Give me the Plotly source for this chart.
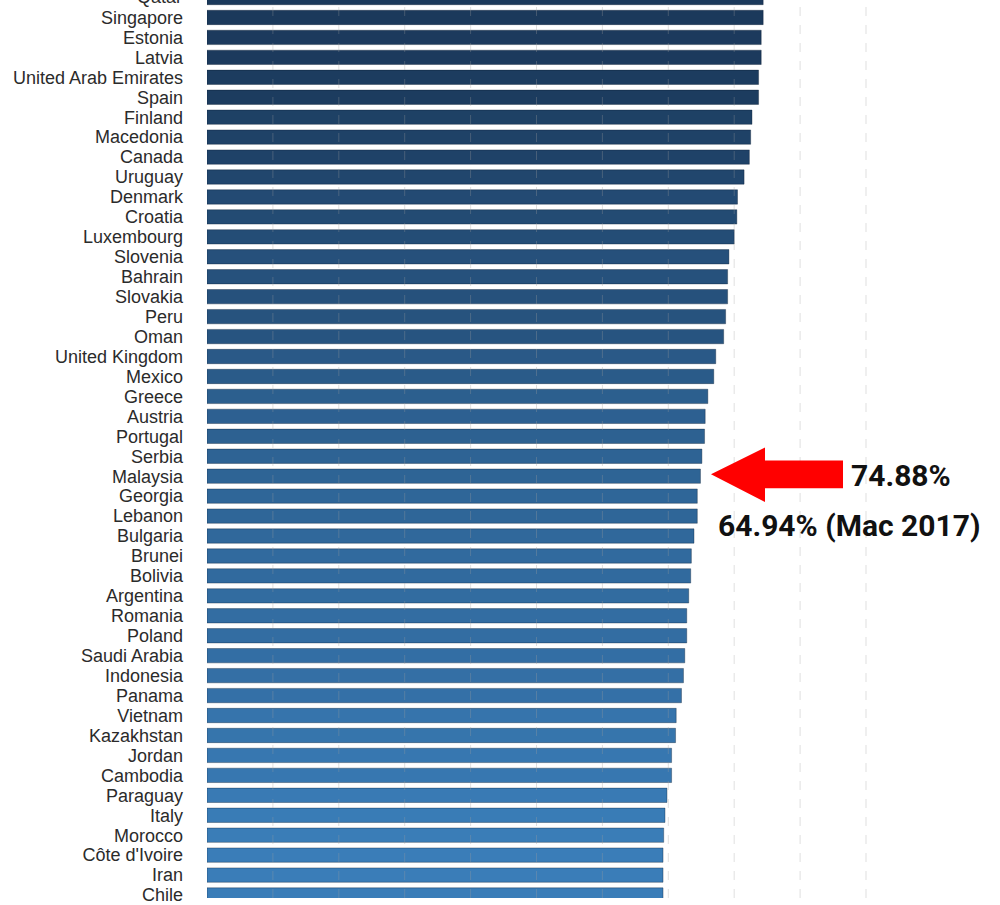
import plotly.graph_objects as go

countries = [
    "Qatar", "Singapore", "Estonia", "Latvia", "United Arab Emirates", "Spain",
    "Finland", "Macedonia", "Canada", "Uruguay", "Denmark", "Croatia",
    "Luxembourg", "Slovenia", "Bahrain", "Slovakia", "Peru", "Oman",
    "United Kingdom", "Mexico", "Greece", "Austria", "Portugal", "Serbia",
    "Malaysia", "Georgia", "Lebanon", "Bulgaria", "Brunei", "Bolivia",
    "Argentina", "Romania", "Poland", "Saudi Arabia", "Indonesia", "Panama",
    "Vietnam", "Kazakhstan", "Jordan", "Cambodia", "Paraguay", "Italy",
    "Morocco", "Côte d'Ivoire", "Iran", "Chile",
]
values = [
    84.4, 84.4, 84.1, 84.1, 83.7, 83.7,
    82.7, 82.5, 82.3, 81.5, 80.5, 80.4,
    80.0, 79.2, 79.0, 79.0, 78.7, 78.4,
    77.2, 76.9, 76.0, 75.6, 75.5, 75.1,
    74.88, 74.4, 74.4, 73.9, 73.5, 73.4,
    73.1, 72.8, 72.8, 72.5, 72.3, 72.0,
    71.2, 71.1, 70.5, 70.5, 69.8, 69.5,
    69.3, 69.2, 69.2, 69.2,
]
grid_ticks = [10, 20, 30, 40, 50, 60, 70, 80, 90, 100]

W, H = 1000, 905
L = 207


def px(x, y):
    # screen pixel position -> paper coords
    return (x - L) / (W - L), 1 - y / H


fig = go.Figure()
fig.add_trace(go.Bar(
    x=values,
    y=countries,
    orientation="h",
    marker=dict(
        color=values,
        colorscale=[[0, "#3a7db8"], [1, "#1b395b"]],
        cmin=min(values), cmax=max(values),
        line=dict(color="rgba(10,25,45,0.35)", width=1),
    ),
    hoverinfo="x+y",
))

# faint dashed gridlines drawn over the bars
for t in grid_ticks:
    fig.add_shape(type="line", xref="x", yref="paper", x0=t, x1=t, y0=0, y1=1,
                  line=dict(color="rgba(160,160,160,0.32)", width=1, dash="dash"),
                  layer="above")

# red arrow pointing at Malaysia
pts = [(711, 478), (765, 451), (765, 464), (843, 464), (843, 492), (765, 492), (765, 506)]
path = "M " + " L ".join("{:.5f},{:.5f}".format(*px(a, b)) for a, b in pts) + " Z"
fig.add_shape(type="path", xref="paper", yref="paper", path=path,
              fillcolor="#ff0000", line=dict(color="#ff0000", width=0), layer="above")

ax, ay = px(849, 479)
fig.add_annotation(x=ax, y=ay, xref="paper", yref="paper", text="<b>74.88%</b>",
                   showarrow=False, xanchor="left", yanchor="middle",
                   font=dict(family="Roboto", size=30, color="#111111"))
bx, by = px(716, 530)
fig.add_annotation(x=bx, y=by, xref="paper", yref="paper", text="<b>64.94% (Mac 2017)</b>",
                   showarrow=False, xanchor="left", yanchor="middle",
                   font=dict(family="Roboto", size=30, color="#111111"))

# first category sits above the top edge, so its label is drawn by hand
qx, qy = px(L, -3)
fig.add_annotation(x=qx, y=qy, xref="paper", yref="paper", text=countries[0],
                   showarrow=False, xanchor="right", yanchor="middle", xshift=-23,
                   font=dict(family="Liberation Sans, Arial, sans-serif", size=18, color="#2b2b2b"))

# category rows: Qatar centre at y=-2.5
pitch = 20.1
r0 = 2.5 / pitch
r1 = r0 + H / pitch

fig.update_layout(
    width=W, height=H,
    margin=dict(l=L, r=0, t=0, b=0),
    plot_bgcolor="white", paper_bgcolor="white",
    bargap=0.28,
    showlegend=False,
    font=dict(family="Liberation Sans, Arial, sans-serif", size=18, color="#333333"),
)
fig.update_xaxes(range=[0, (W - L) / 6.59], showgrid=False, zeroline=False,
                 showticklabels=False, showline=False)
fig.update_yaxes(categoryorder="array", categoryarray=countries,
                 tickmode="array", tickvals=countries, ticktext=countries,
                 range=[r1, r0], showgrid=False, zeroline=False,
                 showline=False, ticks="", ticklabelstandoff=23,
                 tickfont=dict(size=18, color="#2b2b2b"))

fig.write_html("out.html", config={"displayModeBar": False},
               post_script="document.body.style.margin='0';")
